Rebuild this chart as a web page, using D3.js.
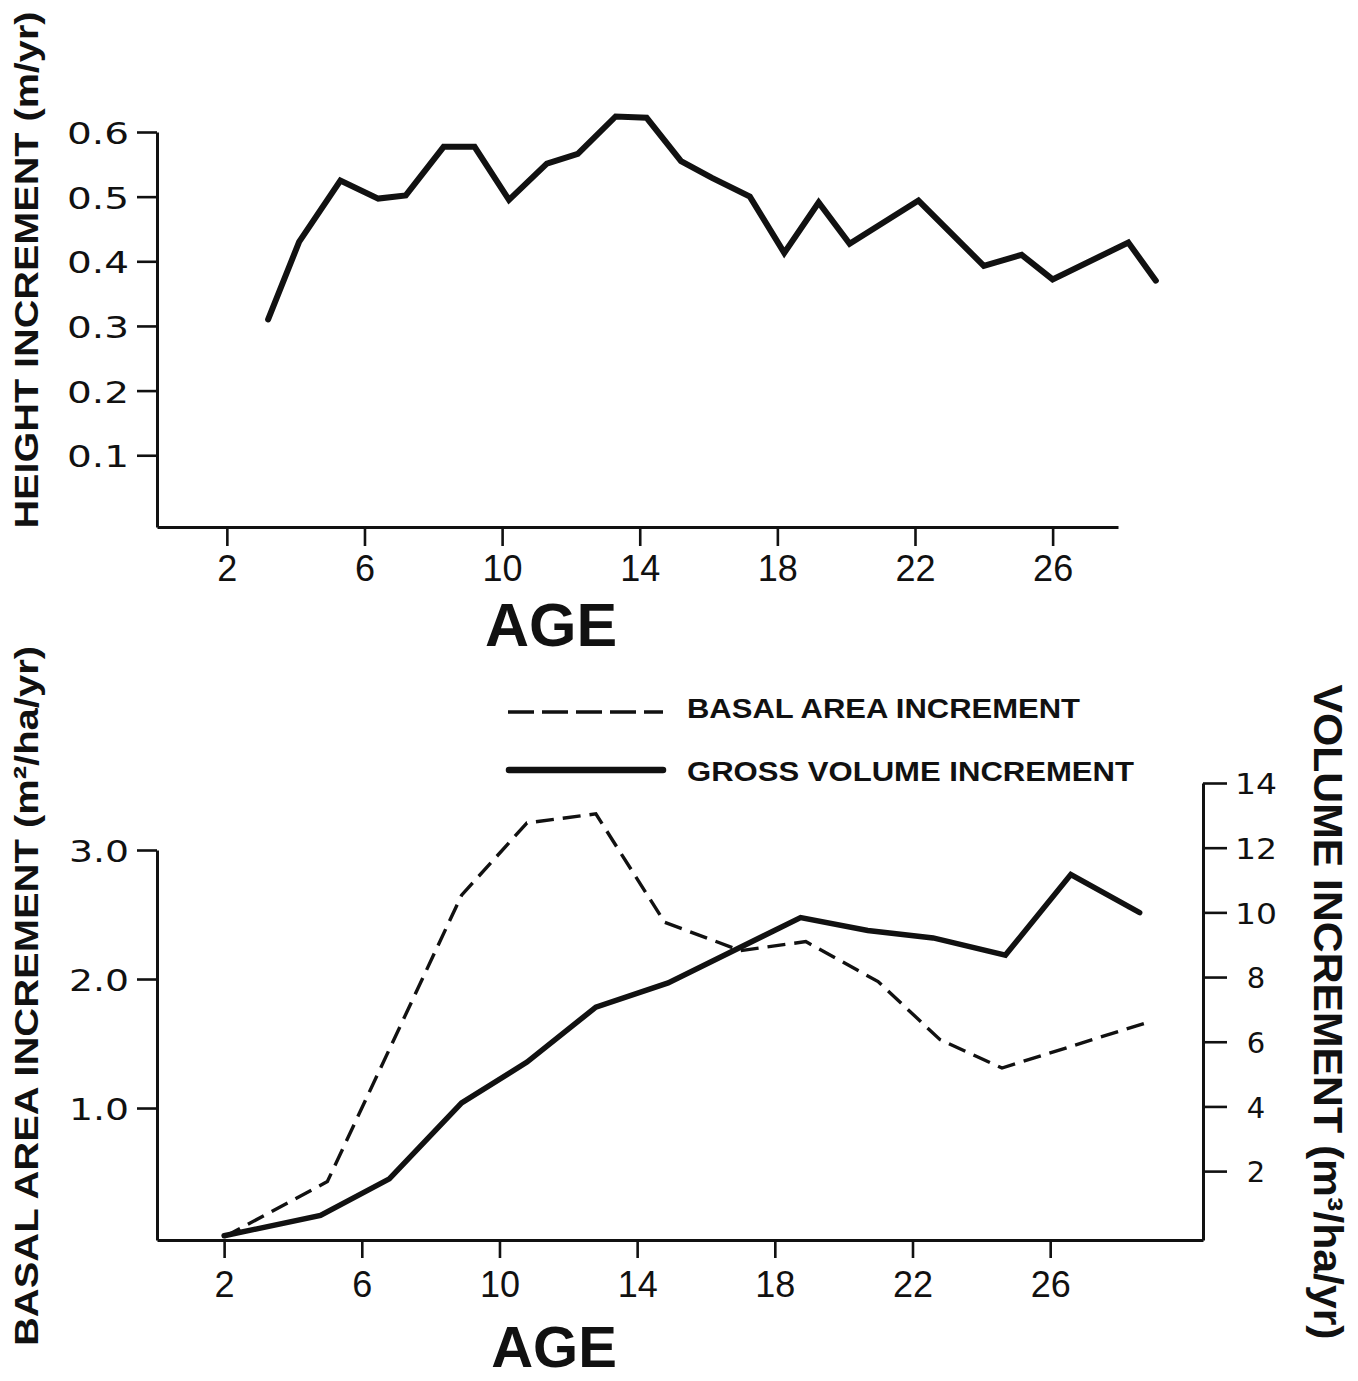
<!DOCTYPE html>
<html><head><meta charset="utf-8">
<script src="https://cdn.jsdelivr.net/npm/d3@7"></script>
<style>
html,body{margin:0;padding:0;background:#fff;}
svg{display:block;}
text{font-family:"Liberation Sans",Arial,Helvetica,sans-serif;fill:#111;}
.axis .domain{stroke:#111;stroke-width:3;}
.axis .tick line{stroke:#111;stroke-width:2.6;}
.num{font-family:"DejaVu Sans","Liberation Sans",sans-serif;}
</style>
</head><body>
<svg id="chart" width="1358" height="1381"></svg>
<script>
// ---------- data ----------
const heightAge = [3.2, 4.1, 5.3, 6.4, 7.2, 8.3, 9.2, 10.2, 11.3, 12.2, 13.3, 14.2, 15.2, 16.1, 17.2, 18.2, 19.2, 20.1, 22.1, 24.0, 25.1, 26.0, 28.2, 29.0];
const heightInc = [0.31, 0.43, 0.525, 0.497, 0.502, 0.577, 0.577, 0.495, 0.551, 0.566, 0.624, 0.622, 0.555, 0.529, 0.50, 0.413, 0.491, 0.427, 0.494, 0.393, 0.41, 0.372, 0.429, 0.37];

const basalAge = [2.0, 5.0, 8.9, 10.8, 12.8, 14.8, 17.0, 18.9, 21.0, 22.8, 24.6, 28.9];
const basalInc = [0.0, 0.43, 2.65, 3.21, 3.28, 2.44, 2.22, 2.29, 1.98, 1.53, 1.31, 1.67];

const volumeAge = [2.0, 4.8, 6.8, 8.9, 10.8, 12.8, 14.9, 18.75, 20.7, 22.6, 24.7, 26.6, 28.6];
const volumeInc = [0.0, 0.63, 1.76, 4.11, 5.37, 7.07, 7.82, 9.84, 9.44, 9.21, 8.68, 11.17, 9.99];

const ageTicks = [2, 6, 10, 14, 18, 22, 26];
const heightTicks = [0.1, 0.2, 0.3, 0.4, 0.5, 0.6];
const basalTicks = [1, 2, 3];
const volumeTicks = [2, 4, 6, 8, 10, 12, 14];

const heightTitle = "HEIGHT INCREMENT (m/yr)";
const basalTitle = "BASAL AREA INCREMENT (m\u00B2/ha/yr)";
const volumeTitle = "VOLUME INCREMENT (m\u00B3/ha/yr)";
const xTitle = "AGE";
const legendLabels = ["BASAL AREA INCREMENT", "GROSS VOLUME INCREMENT"];

// ---------- drawing ----------
const svg = d3.select("#chart");
svg.append("rect").attr("width", 1358).attr("height", 1381).attr("fill", "#fff");
const ink = "#111";

// ===== Top chart =====
const xTop = d3.scaleLinear().domain([-0.03, 27.9]).range([157, 1118]);
const yTop = d3.scaleLinear().domain([-0.011, 0.6]).range([527, 132]);

const gxTop = svg.append("g").attr("class", "axis").attr("transform", "translate(0,527)")
  .call(d3.axisBottom(xTop).tickValues(ageTicks).tickSize(19).tickSizeOuter(0).tickFormat(d3.format("d")));
gxTop.selectAll("text").attr("y", 54).attr("dy", 0).style("font-size", "36px").attr("fill", ink);

const gyTop = svg.append("g").attr("class", "axis").attr("transform", "translate(157,0)")
  .call(d3.axisLeft(yTop).tickValues(heightTicks).tickSize(20).tickSizeOuter(0).tickFormat(d3.format(".1f")));
gyTop.selectAll("text").attr("class", "num").attr("x", -28).attr("dy", "0.37em").style("font-size", "31px")
  .attr("textLength", 62).attr("lengthAdjust", "spacingAndGlyphs").attr("fill", ink);

const heightData = heightAge.map((a, i) => ({a, v: heightInc[i]}));
svg.append("path").datum(heightData)
  .attr("fill", "none").attr("stroke", ink).attr("stroke-width", 6)
  .attr("stroke-linejoin", "miter").attr("stroke-miterlimit", 3).attr("stroke-linecap", "round")
  .attr("d", d3.line().x(d => xTop(d.a)).y(d => yTop(d.v)));

svg.append("text").attr("transform", "translate(38,270) rotate(-90)")
  .attr("text-anchor", "middle").style("font-size", "33px").style("font-weight", "bold")
  .attr("textLength", 517).attr("lengthAdjust", "spacingAndGlyphs").text(heightTitle);

svg.append("text").attr("x", 551).attr("y", 646).attr("text-anchor", "middle")
  .style("font-size", "61px").style("font-weight", "bold").text(xTitle);

// ===== Bottom chart =====
const xBot = d3.scaleLinear().domain([0.05, 30.44]).range([157, 1203]);
const yBas = d3.scaleLinear().domain([-0.023, 3]).range([1240, 850]);
const yVol = d3.scaleLinear().domain([-0.13, 14]).range([1240, 783]);

const gxBot = svg.append("g").attr("class", "axis").attr("transform", "translate(0,1240)")
  .call(d3.axisBottom(xBot).tickValues(ageTicks).tickSize(18).tickSizeOuter(0).tickFormat(d3.format("d")));
gxBot.selectAll("text").attr("y", 57).attr("dy", 0).style("font-size", "36px").attr("fill", ink);

const gyBas = svg.append("g").attr("class", "axis").attr("transform", "translate(157,0)")
  .call(d3.axisLeft(yBas).tickValues(basalTicks).tickSize(20).tickSizeOuter(0).tickFormat(d3.format(".1f")));
gyBas.selectAll("text").attr("class", "num").attr("x", -28).attr("dy", "0.37em").style("font-size", "30px")
  .attr("textLength", 60).attr("lengthAdjust", "spacingAndGlyphs").attr("fill", ink);

const gyVol = svg.append("g").attr("class", "axis").attr("transform", "translate(1203,0)")
  .call(d3.axisRight(yVol).tickValues(volumeTicks).tickSize(24).tickSizeOuter(0).tickFormat(d3.format("d")));
gyVol.selectAll("text").attr("class", "num").attr("x", 53).attr("dy", "0.37em").attr("text-anchor", "middle")
  .style("font-size", "29px").attr("fill", ink)
  .each(function(d){ if (d >= 10) d3.select(this).attr("textLength", 42).attr("lengthAdjust", "spacingAndGlyphs"); });

const basalData = basalAge.map((a, i) => ({a, v: basalInc[i]}));
const volumeData = volumeAge.map((a, i) => ({a, v: volumeInc[i]}));

svg.append("path").datum(basalData)
  .attr("fill", "none").attr("stroke", ink).attr("stroke-width", 3.4)
  .attr("stroke-dasharray", "18,9").attr("stroke-linejoin", "miter")
  .attr("d", d3.line().x(d => xBot(d.a)).y(d => yBas(d.v)));

svg.append("path").datum(volumeData)
  .attr("fill", "none").attr("stroke", ink).attr("stroke-width", 5.5)
  .attr("stroke-linejoin", "miter").attr("stroke-miterlimit", 3).attr("stroke-linecap", "round")
  .attr("d", d3.line().x(d => xBot(d.a)).y(d => yVol(d.v)));

svg.append("text").attr("transform", "translate(38,996) rotate(-90)")
  .attr("text-anchor", "middle").style("font-size", "34px").style("font-weight", "bold")
  .attr("textLength", 700).attr("lengthAdjust", "spacingAndGlyphs").text(basalTitle);

svg.append("text").attr("transform", "translate(1314,1012) rotate(90)")
  .attr("text-anchor", "middle").style("font-size", "40px").style("font-weight", "bold")
  .attr("textLength", 655).attr("lengthAdjust", "spacingAndGlyphs").text(volumeTitle);

svg.append("text").attr("x", 554).attr("y", 1367).attr("text-anchor", "middle")
  .style("font-size", "58px").style("font-weight", "bold").text(xTitle);

// Legend
const leg = svg.append("g");
leg.append("line").attr("x1", 508).attr("x2", 663).attr("y1", 712).attr("y2", 712)
  .attr("stroke", ink).attr("stroke-width", 3.6).attr("stroke-dasharray", "26,8");
leg.append("line").attr("x1", 509).attr("x2", 663).attr("y1", 770).attr("y2", 770)
  .attr("stroke", ink).attr("stroke-width", 6.5).attr("stroke-linecap", "round");
leg.append("text").attr("x", 687).attr("y", 718).style("font-size", "27px").style("font-weight", "bold")
  .attr("textLength", 393).attr("lengthAdjust", "spacingAndGlyphs").text(legendLabels[0]);
leg.append("text").attr("x", 687).attr("y", 781).style("font-size", "27px").style("font-weight", "bold")
  .attr("textLength", 447).attr("lengthAdjust", "spacingAndGlyphs").text(legendLabels[1]);
</script>
</body></html>
